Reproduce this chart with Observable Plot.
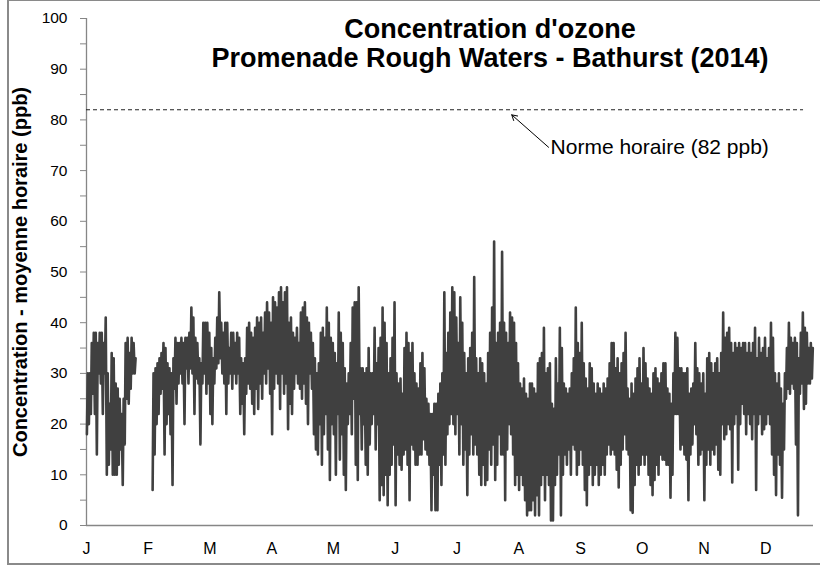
<!DOCTYPE html>
<html>
<head>
<meta charset="utf-8">
<script src="https://cdn.jsdelivr.net/npm/d3@7"></script>
<script src="https://cdn.jsdelivr.net/npm/@observablehq/plot@0.6"></script>
<style>
  html, body { margin: 0; padding: 0; background: #fff; }
  #wrap { position: relative; width: 820px; height: 566px; overflow: hidden; font-family: "Liberation Sans", Arial, sans-serif; }
  #frame { position: absolute; left: 7px; top: 0px; width: 830px; height: 562px; border-left: 2px solid #8a8a8a; border-bottom: 2px solid #8a8a8a; border-top: 1px solid #8a8a8a; box-sizing: content-box; pointer-events: none; }
  #title { position: absolute; left: 190px; width: 600px; top: 15px; text-align: center; font-weight: bold; font-size: 27px; line-height: 29px; color: #000; }
  #chart { position: absolute; left: 0; top: 0; }
</style>
</head>
<body>
<div id="wrap">
  <div id="chart"></div>
  <div id="title">Concentration d'ozone<br>Promenade Rough Waters - Bathurst (2014)</div>
  <div id="frame"></div>
</div>
<script>
// ---- Data: daily high / daily low of hourly ozone, ppb ----
// day index 0 = 1 January 2014; null = missing data
const dailyMax = [
  30,30,36,38,38,36,38,38,36,41, 30,24,34,33,28,27,25,22,25,36, 37,34,37,36,33,
  null,null,null,null,null,null,null,null,
  30,31,32,33,34,36,35,32,31,30, 33,37,36,36,37,36,37,37,38,43, 41,37,36,33,32,40,40,40,38,35, 33,37,41,46,40,38,40,40,35,38, 38,36,
  38,37,33,32,33,39,40,38,37,39, 41,40,41,38,42,44,42,40,45,44, 43,46,47,44,46,47,40,41,38,37,
  39,36,42,43,44,41,40,38,36,33, 30,32,38,39,37,43,40,37,36,34, 32,42,38,36,31,28,30,36,43,44,
  44,47,31,31,30,31,35,30,30,39, 32,35,37,
  43,40,36,30,33,37,44,30,28,29, 26,35,38,36,34,36,30,28,27,32, 34,31,25,24,22,22,24,24,26,28,
  30,46,34,38,42,47,46,41,36,45, 40,34,30,33,35,38,49,33,30,33, 32,30,28,34,38,43,56,36,38,40,
  54,40,38,36,42,41,40,36,32,28, 27,29,26,25,28,
  28,27,26,32,33,34,39,30,31,32, 24,23,33,28,39,35,28,27,26,27, 30,33,43,36,34,40,32,29,27,32,
  31,28,26,28,27,26,28,27,29,32, 36,36,31,33,30,32,34,38,27,25, 28,26,29,31,33,28,35,32,29,27,
  26,30,31,29,28,30,32,32,27,26, 24,30,38,37,31,
  31,30,30,31,26,27,28,36,31,30, 28,30,26,33,34,32,30,32,33,30, 34,42,37,38,39,36,34,36,35,36,
  35,36,36,34,36,34,36,39,33,37, 34,35,37,33,35,40,37,30,28,30, 27,24,30,35,40,37,36,37,36,33,
  38,42,39,38,35,36,35
];
const dailyMin = [
  18,20,22,26,22,14,30,28,22,30, 10,12,15,10,10,10,12,15,8,16, 25,24,27,30,30,
  null,null,null,null,null,null,null,null,
  7,14,20,22,26,27,14,20,22,18, 8,27,24,28,30,28,20,31,28,31, 30,22,29,28,16,28,30,26,28,22, 20,28,31,32,33,30,28,22,28,30, 27,30,
  28,30,22,24,18,26,28,27,24,22, 27,23,28,25,30,28,31,26,18,27, 30,28,23,30,26,28,19,24,22,27,
  30,28,27,25,28,24,20,30,27,18, 15,14,20,12,18,22,15,9,20,18, 10,22,13,18,10,7,20,22,18,25,
  12,9,22,15,20,12,10,16,20,22, 15,20,5,
  8,6,10,4,10,12,16,4,14,12, 11,14,15,12,5,16,15,12,12,14, 14,17,15,14,12,3,10,3,3,12,
  8,14,12,18,20,22,20,18,22,14, 20,12,15,6,14,18,14,16,14,10, 8,12,8,9,15,12,16,9,12,18,
  14,14,5,15,20,18,14,8,10,7, 10,8,5,2,3,
  3,5,2,6,2,8,10,5,10,8, 1,1,8,10,14,2,10,14,12,15, 10,16,15,10,12,15,12,7,4,10,
  12,8,10,12,8,10,12,10,14,16, 14,15,14,11,7.5,12,15,18,15,14, 3,2.5,8,12,10,12,14,12,14,10,
  8,6,9,12,10,14,13,13,12,12, 5.5,10,22,22,22,
  15,16,14,13,5,14,16,20,18,12, 14,15,5,12,15,12,15,14,16,11, 10,20,17,18,20,19,8.5,20,22,11,
  20,24,22,18,22,20,17,22,7,20, 22,18,19,20,22,20,14,10,6,14, 12,5.5,15,25,27,26,28,27,16,2,
  26,28,23,24,28,28,29
];
const monthLabels = ["J","F","M","A","M","J","J","A","S","O","N","D"];
const labelDays = [0,31,62,93,124,155,186,217,248,279,310,341];
const yTicks = [0,10,20,30,40,50,60,70,80,90,100];
const yMinorTicks = [0,5,10,15,20,25,30,35,40,45,50,55,60,65,70,75,80,85,90,95,100];
const normValue = 82;
const normRange = [0, 360];
const noteText = "Norme horaire (82 ppb)";
const notePos = [{x1: 232, y1: 74.6, x2: 213.5, y2: 81}];
const yLabel = "Concentration - moyenne horaire (ppb)";

// Build the zig-zag sequence: low then high of each day
const points = [];
for (let d = 0; d < dailyMax.length; d++) {
  points.push({t: d + 0.2, v: dailyMin[d]});
  points.push({t: d + 0.65, v: dailyMax[d]});
}

const chart = Plot.plot({
  width: 820,
  height: 566,
  marginLeft: 86,
  marginRight: 7,
  marginTop: 18,
  marginBottom: 41,
  style: {fontFamily: "'Liberation Sans', Arial, sans-serif", fontSize: "16px", color: "#000", background: "transparent"},
  x: {domain: [0, 365]},
  y: {domain: [0, 100]},
  marks: [
    Plot.axisY({ticks: yMinorTicks, tickSize: 6, text: null, label: null, stroke: "#868686"}),
    Plot.axisY({ticks: yTicks, tickSize: 0, tickPadding: 19, label: null, fontSize: 15.5}),
    Plot.axisX({ticks: labelDays, tickSize: 0, tickPadding: 17, label: null, fontSize: 16,
      tickFormat: d => monthLabels[labelDays.indexOf(d)]}),
    Plot.ruleX([0], {stroke: "#868686", strokeWidth: 1.3}),
    Plot.ruleY([0], {stroke: "#868686", strokeWidth: 1.3}),
    Plot.ruleY([normValue], {x1: normRange[0], x2: normRange[1], stroke: "#222", strokeWidth: 1, strokeDasharray: "4,3"}),
    Plot.line(points, {x: "t", y: "v", stroke: "#404040", strokeWidth: 2.6}),
    Plot.arrow(notePos, {x1: "x1", y1: "y1", x2: "x2", y2: "y2", stroke: "#000", strokeWidth: 1, headLength: 9}),
    Plot.text(notePos, {x: "x1", y: "y1", text: [noteText], textAnchor: "start", dx: 2, fontSize: 21, fill: "#000"}),
    Plot.text([yLabel], {frameAnchor: "left", textAnchor: "middle", rotate: -90, dx: -66, fontWeight: "bold", fontSize: 20, fill: "#000"})
  ]
});
document.getElementById("chart").appendChild(chart);
</script>
</body>
</html>
